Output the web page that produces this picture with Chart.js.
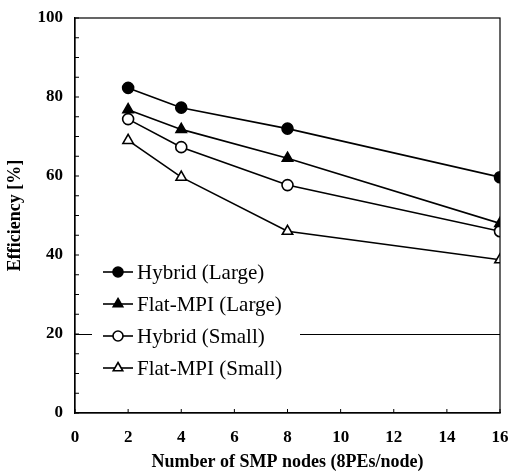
<!DOCTYPE html>
<html>
<head>
<meta charset="utf-8">
<script src="https://cdn.jsdelivr.net/npm/chart.js@4.4.1/dist/chart.umd.min.js"></script>
<style>
  html, body { margin: 0; padding: 0; background: #fff; }
  #wrap { width: 509px; height: 474px; }
</style>
</head>
<body>
<div id="wrap"><canvas id="eff"></canvas></div>
<script>
const nodes = [2, 4, 8, 16];
const hybridLarge = [82.3, 77.3, 72.0, 59.7];
const flatLarge   = [76.8, 71.8, 64.5, 48.0];
const hybridSmall = [74.4, 67.3, 57.7, 46.0];
const flatSmall   = [69.0, 59.7, 46.0, 38.8];
const xTicks = [0, 2, 4, 6, 8, 10, 12, 14, 16];
const yTicks = [0, 20, 40, 60, 80, 100];

const serif = "'Liberation Serif', 'Times New Roman', serif";
const pts = ys => nodes.map((x, i) => ({ x: x, y: ys[i] }));

function series(label, ys, style, filled) {
  return {
    label: label,
    data: pts(ys),
    borderColor: '#000',
    borderWidth: 1.6,
    pointStyle: style,
    pointRadius: style === 'triangle' ? 6 : 5.5,
    pointBorderWidth: 1.6,
    pointBorderColor: '#000',
    pointBackgroundColor: filled ? '#000' : '#fff',
    tension: 0
  };
}

// box round the plot + small inward ticks
const frame = {
  id: 'frame',
  afterDatasetsDraw(chart) {
    const { ctx, chartArea: a, scales } = chart;
    ctx.save();
    ctx.strokeStyle = '#000';
    ctx.lineWidth = 1.2;
    ctx.strokeRect(a.left, a.top, a.right - a.left, a.bottom - a.top);
    ctx.lineWidth = 1;
    for (let v = 0; v <= 100; v += 5) {
      const y = scales.y.getPixelForValue(v);
      ctx.beginPath(); ctx.moveTo(a.left, y); ctx.lineTo(a.left + 4, y); ctx.stroke();
    }
    xTicks.forEach(v => {
      const x = scales.x.getPixelForValue(v);
      ctx.beginPath(); ctx.moveTo(x, a.bottom); ctx.lineTo(x, a.bottom - 4); ctx.stroke();
    });
    ctx.restore();
  }
};

// legend sitting inside the plot, lower left
const boxLegend = {
  id: 'boxLegend',
  afterDraw(chart) {
    const ctx = chart.ctx;
    const x0 = 103, rowH = 32, top = 272;
    ctx.save();
    ctx.fillStyle = '#fff';
    ctx.fillRect(92, 254, 208, 132);
    chart.data.datasets.forEach((ds, i) => {
      const y = top + i * rowH;
      ctx.strokeStyle = '#000';
      ctx.lineWidth = 1.6;
      ctx.beginPath(); ctx.moveTo(x0, y); ctx.lineTo(x0 + 30, y); ctx.stroke();
      ctx.fillStyle = ds.pointBackgroundColor;
      Chart.helpers.drawPoint(ctx, {
        pointStyle: ds.pointStyle,
        radius: ds.pointRadius - 0.5,
        borderWidth: 1.6
      }, x0 + 15, y);
      ctx.fillStyle = '#000';
      ctx.font = '21px ' + serif;
      ctx.textBaseline = 'middle';
      ctx.fillText(ds.label, x0 + 34, y + 1);
    });
    ctx.restore();
  }
};

new Chart(document.getElementById('eff'), {
  type: 'line',
  data: {
    datasets: [
      series('Hybrid (Large)', hybridLarge, 'circle', true),
      series('Flat-MPI (Large)', flatLarge, 'triangle', true),
      series('Hybrid (Small)', hybridSmall, 'circle', false),
      series('Flat-MPI (Small)', flatSmall, 'triangle', false)
    ]
  },
  options: {
    responsive: true,
    maintainAspectRatio: false,
    animation: false,
    layout: { padding: { top: 18, right: 9, left: 0, bottom: 0 } },
    plugins: { legend: { display: false }, tooltip: { enabled: false } },
    scales: {
      x: {
        type: 'linear', min: 0, max: 16,
        afterBuildTicks: s => { s.ticks = xTicks.map(v => ({ value: v })); },
        afterFit: s => { s.height = 61; s.paddingLeft = 0; s.paddingRight = 0; },
        grid: { display: false, drawTicks: false },
        border: { display: true, color: '#000', width: 1.2 },
        ticks: { color: '#000', padding: 14, font: { family: serif, size: 17, weight: 'bold' } },
        title: {
          display: true, text: 'Number of SMP nodes (8PEs/node)', color: '#000',
          padding: { top: 0, bottom: 1 },
          font: { family: serif, size: 18, weight: 'bold' }
        }
      },
      y: {
        min: 0, max: 100,
        afterBuildTicks: s => { s.ticks = yTicks.map(v => ({ value: v })); },
        afterFit: s => { s.width = 75; s.paddingTop = 0; s.paddingBottom = 0; },
        grid: {
          drawTicks: false,
          color: c => c.tick && c.tick.value === 20 ? '#000' : 'rgba(0,0,0,0)',
          lineWidth: 1
        },
        border: { display: true, color: '#000', width: 1.2 },
        ticks: { color: '#000', padding: 12, font: { family: serif, size: 17, weight: 'bold' } },
        title: {
          display: true, text: 'Efficiency [%]', color: '#000',
          padding: { top: 5, bottom: 0 },
          font: { family: serif, size: 18, weight: 'bold' }
        }
      }
    }
  },
  plugins: [frame, boxLegend]
});
</script>
</body>
</html>
